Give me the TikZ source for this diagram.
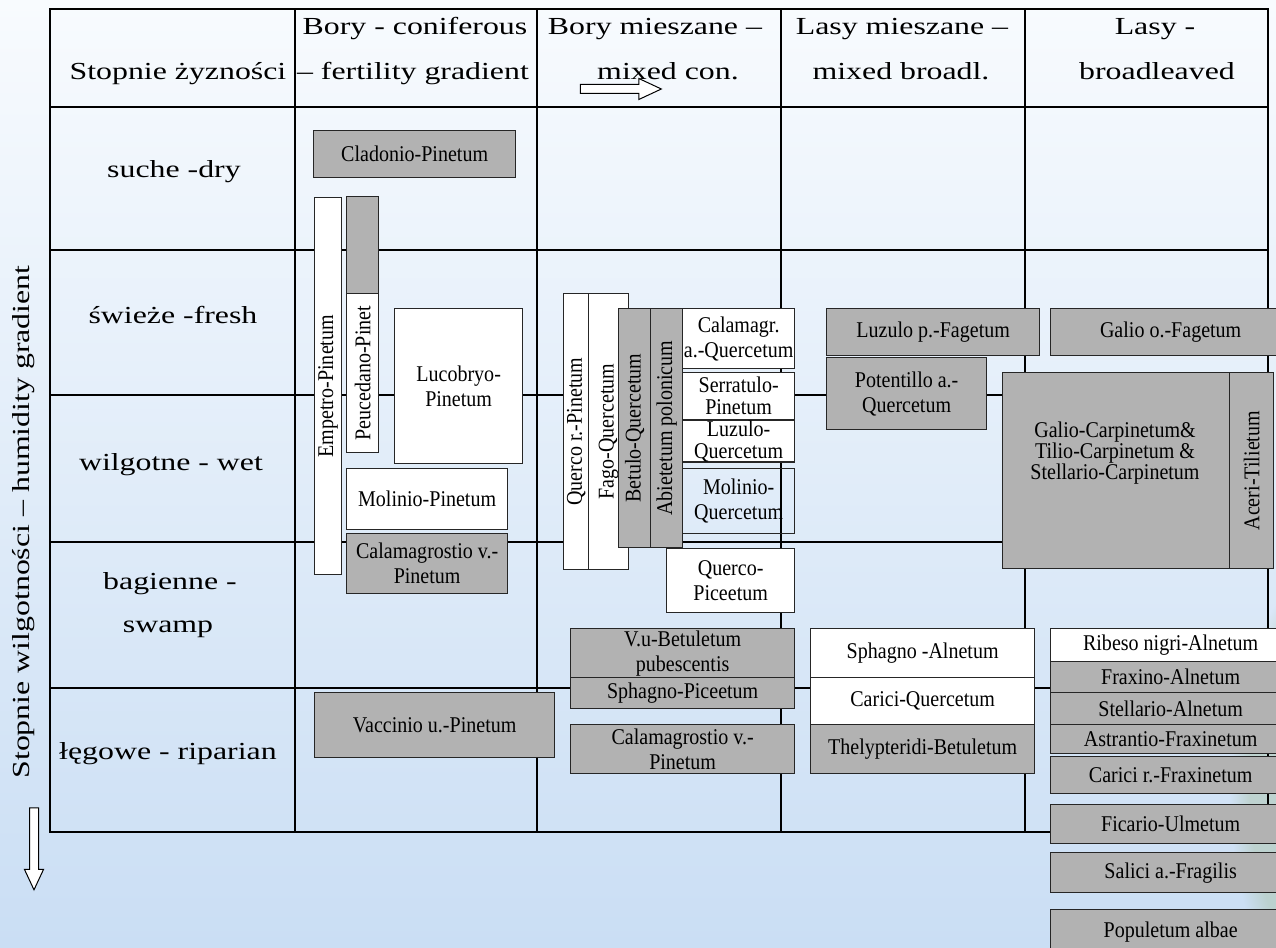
\documentclass[tikz,border=0pt]{standalone}
\usepackage{fontspec}
\setmainfont{Liberation Serif}
\newfontfamily\widefont{Liberation Serif}[FakeStretch=1.3]
\newfontfamily\boxfont{Liberation Serif}[FakeStretch=0.89]
\usepackage{xcolor}
\usepackage{tikz}
\usetikzlibrary{shapes.arrows,fadings}
\definecolor{assocgrey}{HTML}{B2B2B2}
\definecolor{bgtop}{HTML}{F8FBFE}
\definecolor{bgmid}{HTML}{E0ECF8}
\definecolor{bgbot}{HTML}{CADEF4}
\definecolor{globe}{HTML}{A3BC98}

\begin{document}
\begin{tikzpicture}[
    x=1pt, y=-1pt,
    grid/.style={line width=2.2pt, line cap=rect},
    assoc/.style={draw=black!85, line width=1.3pt, fill=assocgrey, anchor=north west,
                  inner sep=0pt, align=center, font=\boxfont\fontsize{22.5}{25}\selectfont},
    assocw/.style={assoc, fill=white},
    assoco/.style={assoc, fill=none},
    tight/.style={font=\boxfont\fontsize{22.5}{22}\selectfont},
    vtext/.style={rotate=90, inner sep=0pt, font=\boxfont\fontsize{22.5}{25}\selectfont},
    hdr/.style={anchor=base, inner sep=0pt, font=\widefont\fontsize{24.5}{30}\selectfont},
    hollow/.style={single arrow, draw=black, fill=white, line width=1pt, inner xsep=0pt,
                   inner ysep=4pt, single arrow head indent=0pt}
]
    \useasboundingbox (0,0) rectangle (1276,947);
    \shade[top color=bgtop, middle color=bgmid, bottom color=bgbot] (0,0) rectangle (1276,947);
    \begin{scope}
        \clip (0,0) rectangle (1276,947);
        \fill[globe, opacity=0.4, path fading=circle with fuzzy edge 20 percent]
            (1330,790) ellipse (100 and 220);
    \end{scope}

    \foreach \y in {9,107,250,395,542,688,832}
        \draw[grid] (50,\y) -- (1268,\y);
    \foreach \x in {50,295,537,781,1025,1268}
        \draw[grid] (\x,9) -- (\x,832);

    \node[hdr] (zyzn) at (178,80) {Stopnie żyzności};
    \node[hdr] (bory1) at (415,34.5) {Bory - coniferous};
    \node[hdr] (bory2) at (413,80) {– fertility gradient};
    \node[hdr] (bmiesz1) at (655,34.5) {Bory mieszane –};
    \node[hdr] (bmiesz2) at (668,80) {mixed con.};
    \node[hdr] (lmiesz1) at (902,34.5) {Lasy mieszane –};
    \node[hdr] (lmiesz2) at (901,80) {mixed broadl.};
    \node[hdr] (lasy1) at (1155,34.5) {Lasy -};
    \node[hdr] (lasy2) at (1157,80) {broadleaved};
    \node[hollow, minimum height=81pt, single arrow head extend=6pt,
          single arrow tip angle=50] (strzX) at (616,89) {};

    \node[hdr] (suche) at (174,177) {suche -dry};
    \node[hdr] (swieze) at (173,323) {świeże -fresh};
    \node[hdr] (wilg) at (171,470) {wilgotne - wet};
    \node[hdr] (bag1) at (170,589) {bagienne -};
    \node[hdr] (bag2) at (168,632) {swamp};
    \node[hdr] (legi) at (168,759) {łęgowe - riparian};
    \node[hdr, anchor=center, rotate=90] (osY) at (24,522) {Stopnie wilgotności – humidity gradient};
    \node[hollow, rotate=-90, minimum height=82pt, single arrow head extend=5pt,
          single arrow tip angle=50] (strzY) at (34,844) {};

    \node[assoc, minimum width=202pt, minimum height=47pt] (cladonio) at (313,130) {Cladonio-Pinetum};
    \node[assocw, minimum width=27pt, minimum height=377pt] (empetro) at (314,197) {};
    \node[vtext] (empetro-t) at (empetro.center) {Empetro-Pinetum};
    \node[assoc, minimum width=32pt, minimum height=97pt] (peuc-g) at (346,196) {};
    \node[assocw, minimum width=32pt, minimum height=159pt] (peuc) at (346,293) {};
    \node[vtext] (peuc-t) at (peuc.center) {Peucedano-Pinet};
    \node[assocw, minimum width=128pt, minimum height=155pt] (lucobryo) at (394,308) {Lucobryo-\\Pinetum};
    \node[assocw, minimum width=161pt, minimum height=61pt] (molinioP) at (346,468) {Molinio-Pinetum};
    \node[assoc, minimum width=161pt, minimum height=60pt] (calamP) at (346,533) {Calamagrostio v.-\\Pinetum};
    \node[assoc, minimum width=240pt, minimum height=65pt] (vaccinio) at (314,692) {Vaccinio u.-Pinetum};

    \node[assocw, minimum width=25pt, minimum height=276pt] (quercoR) at (563,293) {};
    \node[vtext] (quercoR-t) at (quercoR.center) {Querco r.-Pinetum};
    \node[assocw, minimum width=40pt, minimum height=276pt] (fago) at (588,293) {};
    \node[vtext] (fago-t) at (fago.center) {Fago-Quercetum};
    \node[assoc, minimum width=32pt, minimum height=239pt] (betulo) at (618,308) {};
    \node[vtext] (betulo-t) at (betulo.center) {Betulo-Quercetum};
    \node[assoc, minimum width=32pt, minimum height=239pt] (abiet) at (650,308) {};
    \node[vtext] (abiet-t) at (abiet.center) {Abietetum polonicum};
    \node[assocw, minimum width=112pt, minimum height=60pt] (calamQ) at (682,308) {Calamagr.\\a.-Quercetum};
    \node[assocw, tight, minimum width=112pt, minimum height=47pt] (serrat) at (682,372) {Serratulo-\\Pinetum};
    \node[assocw, tight, minimum width=112pt, minimum height=37pt] (luzuloQ) at (682,420) {Luzulo-\\Quercetum};
    \node[assoco, minimum width=112pt, minimum height=65pt] (molinioQ) at (682,468) {Molinio-\\Quercetum};
    \node[assocw, minimum width=128pt, minimum height=64pt] (quercoP) at (666,548) {Querco-\\Piceetum};
    \node[assoc, minimum width=224pt, minimum height=49pt] (vub) at (570,628) {V.u-Betuletum\\pubescentis};
    \node[assoc, minimum width=224pt, minimum height=31pt] (sphagnoP) at (570,677) {Sphagno-Piceetum};
    \node[assoc, minimum width=224pt, minimum height=49pt] (calamP2) at (570,724) {Calamagrostio v.-\\Pinetum};

    \node[assoc, minimum width=213pt, minimum height=47pt] (luzuloF) at (826,308) {Luzulo p.-Fagetum};
    \node[assoc, minimum width=160pt, minimum height=72pt] (potent) at (826,357) {Potentillo a.-\\Quercetum};
    \node[assocw, minimum width=224pt, minimum height=49pt] (sphagnoA) at (810,628) {Sphagno -Alnetum};
    \node[assocw, minimum width=224pt, minimum height=47pt] (cariciQ) at (810,677) {Carici-Quercetum};
    \node[assoc, minimum width=224pt, minimum height=49pt] (thely) at (810,724) {Thelypteridi-Betuletum};

    \node[assoc, minimum width=240pt, minimum height=47pt] (galioF) at (1050,308) {Galio o.-Fagetum};
    \node[assoc, minimum width=227pt, minimum height=196pt] (galioC) at (1002,372) {};
    \node[align=center, inner sep=0pt, font=\boxfont\fontsize{22.5}{20}\selectfont] (galioC-t) at (1115,453)
        {Galio-Carpinetum\&\\Tilio-Carpinetum \&\\Stellario-Carpinetum};
    \node[assoc, minimum width=44pt, minimum height=196pt] (aceri) at (1229,372) {};
    \node[vtext] (aceri-t) at (aceri.center) {Aceri-Tilietum};
    \node[assocw, minimum width=240pt, minimum height=33pt] (ribeso) at (1050,628) {Ribeso nigri-Alnetum};
    \node[assoc, minimum width=240pt, minimum height=31pt] (fraxinoA) at (1050,661) {Fraxino-Alnetum};
    \node[assoc, minimum width=240pt, minimum height=32pt] (stellA) at (1050,692) {Stellario-Alnetum};
    \node[assoc, minimum width=240pt, minimum height=29pt] (astrant) at (1050,724) {Astrantio-Fraxinetum};
    \node[assoc, minimum width=240pt, minimum height=37pt] (cariciF) at (1050,756) {Carici r.-Fraxinetum};
    \node[assoc, minimum width=240pt, minimum height=39pt] (ficario) at (1050,804) {Ficario-Ulmetum};
    \node[assoc, minimum width=240pt, minimum height=40pt] (salici) at (1050,852) {Salici a.-Fragilis};
    \node[assoc, minimum width=240pt, minimum height=45pt] (populetum) at (1050,909) {Populetum albae};
\end{tikzpicture}
\end{document}
